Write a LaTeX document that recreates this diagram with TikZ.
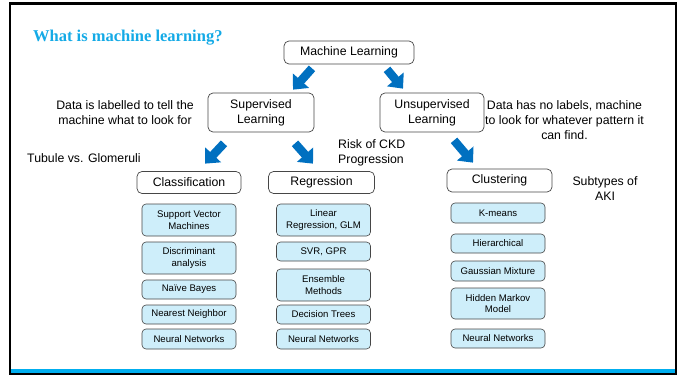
\documentclass[tikz,border=0pt]{standalone}
\usepackage{fontspec}
\setmainfont{Liberation Sans}
\newfontfamily\headfont{Liberation Serif}
\usetikzlibrary{arrows.meta}
\definecolor{headcyan}{RGB}{20,170,230}
\definecolor{arrowblue}{RGB}{0,112,192}
\definecolor{boxcyan}{RGB}{206,238,250}
\definecolor{barcyan}{RGB}{0,174,239}
\definecolor{edgegray}{RGB}{70,70,70}
\begin{document}
\begin{tikzpicture}[x=1pt,y=-1pt,
    catbox/.style={draw=edgegray,line width=0.7pt,rounded corners=5pt,align=center,inner sep=0pt,
      font=\fontsize{12.3}{15}\selectfont},
    algbox/.style={draw=edgegray,fill=boxcyan,line width=0.6pt,rounded corners=4pt,align=center,
      inner sep=0pt,minimum width=94pt,font=\fontsize{9.6}{11.5}\selectfont},
    note/.style={align=center,inner sep=0pt,font=\fontsize{12.3}{15}\selectfont},
    bigarrow/.style={arrowblue,line width=8.5pt,-{Triangle[length=12pt,width=21pt]}}]
  \useasboundingbox (0,0) rectangle (683,377);
  % frame and bottom bar
  \fill [barcyan] (9,368.5) rectangle (675,373);
  \draw [line width=2.2pt] (10,3.5) rectangle (676,374);
  \node [anchor=west,inner sep=0pt,text=headcyan,font=\headfont\bfseries\fontsize{16.5}{18}\selectfont] (title) at (33,37.5) {What is machine learning?};
  % categories
  \node [catbox,minimum width=130pt,minimum height=23pt] (ml) at (349,52.5) {Machine Learning};
  \node [catbox,minimum width=106pt,minimum height=39pt] (sup) at (261,112.5) {Supervised\\Learning};
  \node [catbox,minimum width=104pt,minimum height=39pt] (unsup) at (432,112.5) {Unsupervised\\Learning};
  \node [catbox,minimum width=104pt,minimum height=22pt] (cls) at (189,182.5) {Classification};
  \node [catbox,minimum width=106pt,minimum height=22pt] (reg) at (321.5,182.5) {Regression};
  \node [catbox,minimum width=105pt,minimum height=23pt] (clu) at (499.5,180.5) {Clustering};
  % arrows
  \draw [bigarrow] ([xshift=-37pt,yshift=-4pt]ml.south) -- ([xshift=32pt,yshift=3pt]sup.north);
  \draw [bigarrow] ([xshift=38pt,yshift=-5pt]ml.south) -- ([xshift=-29pt,yshift=4pt]unsup.north);
  \draw [bigarrow] ([xshift=-37pt,yshift=-11pt]sup.south) -- ([xshift=16pt,yshift=7.5pt]cls.north);
  \draw [bigarrow] ([xshift=34pt,yshift=-11pt]sup.south) -- ([xshift=-8.5pt,yshift=7.5pt]reg.north);
  \draw [bigarrow] ([xshift=22pt,yshift=-8pt]unsup.south) -- ([xshift=-26.5pt,yshift=6pt]clu.north);
  % notes
  \node [note] (labelled) at (125,112.5) {Data is labelled to tell the\\machine what to look for};
  \node [note] (nolabels) at (564.5,120) {Data has no labels, machine\\to look for whatever pattern it\\can find.};
  \node [note,anchor=west] (tubule) at (27,158) {Tubule vs. Glomeruli};
  \node [note,anchor=west,align=left] (ckd) at (338,152.5) {Risk of CKD\\Progression};
  \node [note] (aki) at (605,188.5) {Subtypes of\\AKI};
  % classification methods
  \node [algbox,minimum height=32pt] (svm) at (189,220) {Support Vector\\Machines};
  \node [algbox,minimum height=32pt] (disc) at (189,258) {Discriminant\\analysis};
  \node [algbox,minimum height=19pt] (bayes) at (189,289.5) {Naïve Bayes};
  \node [algbox,minimum height=19pt] (knn) at (189,314.5) {Nearest Neighbor};
  \node [algbox,minimum height=20pt] (clsnn) at (189,339) {Neural Networks};
  % regression methods
  \node [algbox,minimum height=32pt] (lin) at (323.5,220) {Linear\\Regression, GLM};
  \node [algbox,minimum height=19pt] (svr) at (323.5,251.5) {SVR, GPR};
  \node [algbox,minimum height=32pt] (ens) at (323.5,285) {Ensemble\\Methods};
  \node [algbox,minimum height=19pt] (trees) at (323.5,314.5) {Decision Trees};
  \node [algbox,minimum height=20pt] (regnn) at (323.5,339) {Neural Networks};
  % clustering methods
  \node [algbox,minimum height=20pt] (kmeans) at (498,213) {K-means};
  \node [algbox,minimum height=19pt] (hier) at (498,243.5) {Hierarchical};
  \node [algbox,minimum height=20pt] (gmm) at (498,271) {Gaussian Mixture};
  \node [algbox,minimum height=31pt] (hmm) at (498,303.5) {Hidden Markov\\Model};
  \node [algbox,minimum height=19pt] (clunn) at (498,338.5) {Neural Networks};
\end{tikzpicture}
\end{document}
